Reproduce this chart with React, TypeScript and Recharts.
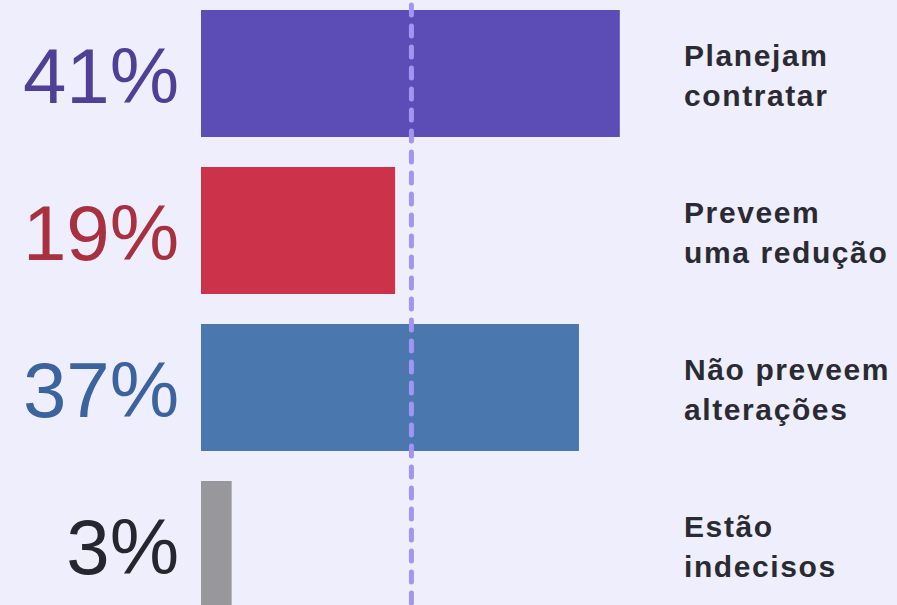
import { BarChart, Bar, XAxis, YAxis, Cell, LabelList, ReferenceLine } from 'recharts';

const categories = ['Planejam contratar', 'Preveem uma redução', 'Não preveem alterações', 'Estão indecisos'];
const labelLines = [
  ['Planejam', 'contratar'],
  ['Preveem', 'uma redução'],
  ['Não preveem', 'alterações'],
  ['Estão', 'indecisos'],
];
const values = [41, 19, 37, 3];
const referenceValue = 20.6;

const BAR_COLORS = ['#5c4db6', '#cc334a', '#4a78ae', '#98979b'];
const PCT_COLORS = ['#4f3f96', '#a8303f', '#3a63a0', '#26272e'];

const data = categories.map((name, i) => ({ name, value: values[i], idx: i }));

function CategoryTick(props: any) {
  const { x, y, payload } = props;
  const lines = labelLines[payload.index] ?? [payload.value];
  return (
    <text
      x={x}
      y={y}
      fill="#2a2b32"
      fontFamily="'Liberation Sans', Arial, sans-serif"
      fontWeight="bold"
      fontSize={30}
      letterSpacing={1.6}
      textAnchor="start"
    >
      <tspan x={x} dy={-8}>{lines[0]}</tspan>
      <tspan x={x} dy={40}>{lines[1]}</tspan>
    </text>
  );
}

function PctLabel(props: any) {
  const { x, y, height, index, value } = props;
  return (
    <text
      x={x - 22}
      y={y + height / 2}
      dy={29}
      textAnchor="end"
      fill={PCT_COLORS[index]}
      fontFamily="'Liberation Sans', Arial, sans-serif"
      fontSize={78}
    >
      {value}%
    </text>
  );
}

export default function App() {
  return (
    <div
      style={{
        position: 'absolute',
        left: 0,
        top: 0,
        width: 897,
        height: 605,
        overflow: 'hidden',
        background: '#efeefc',
      }}
    >
      <div style={{ position: 'absolute', left: 0, top: -5 }}>
        <BarChart
          width={897}
          height={628}
          data={data}
          layout="vertical"
          margin={{ top: 0, right: 0, bottom: 0, left: 201 }}
          barCategoryGap={15}
        >
          <XAxis type="number" domain={[0, 46.5]} hide />
          <YAxis
            type="category"
            dataKey="name"
            orientation="right"
            width={221}
            axisLine={false}
            tickLine={false}
            tickSize={0}
            tickMargin={8}
            tick={<CategoryTick />}
          />
          <Bar dataKey="value" isAnimationActive={false}>
            {data.map((d) => (
              <Cell key={d.name} fill={BAR_COLORS[d.idx]} />
            ))}
            <LabelList dataKey="value" content={<PctLabel />} />
          </Bar>
          <ReferenceLine
            x={referenceValue}
            stroke="#a294f2"
            strokeWidth={5}
            strokeDasharray="10 11"
            strokeDashoffset={1}
            strokeLinecap="round"
          />
        </BarChart>
      </div>
    </div>
  );
}
